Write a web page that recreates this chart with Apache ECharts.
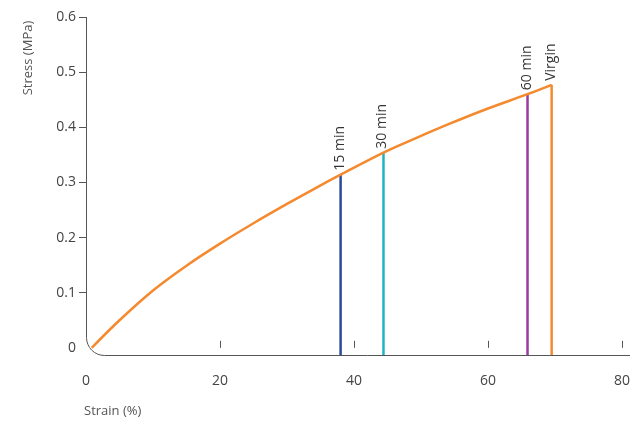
<!DOCTYPE html>
<html><head><meta charset="utf-8">
<script src="https://cdn.jsdelivr.net/npm/echarts@6/dist/echarts.min.js"></script>
<style>html,body{margin:0;padding:0;background:#fff}#c{width:633px;height:424px}</style>
</head><body><div id="c"></div>
<script>
// Virgin stress-strain curve: [strain %, stress MPa]
var virginCurve = [[0.85,0],[5,0.05],[10,0.104],[15,0.149],[20,0.189],[25,0.226],[30,0.261],[34,0.288],[38,0.314],[44.4,0.354],[49,0.379],[54.2,0.406],[60,0.434],[65.9,0.46],[69.5,0.477]];
// Failure points
var breakLabels = ['15 min','30 min','60 min','Virgin'];
var breakStrain = [38.0, 44.4, 65.9, 69.5];
var breakStress = [0.314, 0.354, 0.46, 0.477];
var breakColors = ['#2c4a9a','#1fb3c2','#9a3c9e','#f5892e'];
var xTicks = [0,20,40,60,80];
var yTicks = [0,0.1,0.2,0.3,0.4,0.5,0.6];

var Y_MIN = -0.013;
var FONT = '"Open Sans", sans-serif';
var chart = echarts.init(document.getElementById('c'));

var series = [{
  type:'line', data: virginCurve, smooth:0.35, symbol:'none',
  lineStyle:{color:'#f5892e', width:2.5}, z:3
}];
breakLabels.forEach(function(name,i){
  series.push({
    type:'line', symbol:'circle', symbolSize:0, showSymbol:true, z:2,
    lineStyle:{color:breakColors[i], width:2.5},
    itemStyle:{color:breakColors[i]},
    data:[
      {value:[breakStrain[i], breakStress[i]], label:{show:true, formatter:name, position:'top', rotate:90,
        align:'left', verticalAlign:'middle', distance:9, offset:[-5,-1], color:'#333', fontSize:14, fontFamily:FONT}},
      [breakStrain[i], Y_MIN]
    ]
  });
});

chart.setOption({
  animation:false,
  grid:{left:86, right:10, top:17, bottom:69, containLabel:false},
  xAxis:{type:'value', min:0, max:80,
    axisLine:{show:false}, splitLine:{show:false},
    axisTick:{show:true, inside:true, length:7, customValues:xTicks.slice(1), lineStyle:{color:'#555'}},
    axisLabel:{customValues:xTicks, margin:19, color:'#444', fontSize:14, fontFamily:FONT}
  },
  yAxis:{type:'value', min:Y_MIN, max:0.6,
    axisLine:{show:false}, splitLine:{show:false},
    axisTick:{show:true, inside:false, length:7, customValues:yTicks.slice(1), lineStyle:{color:'#555'}},
    axisLabel:{customValues:yTicks, margin:10, color:'#444', fontSize:14, fontFamily:FONT,
      formatter:function(v){return v===0?'0':v.toFixed(1);}}
  },
  series:series
});

var p0 = chart.convertToPixel({gridIndex:0},[0,Y_MIN]);
var pTop = chart.convertToPixel({gridIndex:0},[0,0.6]);
var x0 = Math.round(p0[0])+0.5, yb = Math.round(p0[1])+0.5, yt = Math.round(pTop[1]);
var r = 18;
var axStyle = {stroke:'#555', lineWidth:1, fill:null};
chart.setOption({graphic:[
  {type:'line', shape:{x1:x0,y1:yt,x2:x0,y2:yb-r}, style:axStyle, silent:true},
  {type:'arc', shape:{cx:x0+r, cy:yb-r, r:r, startAngle:Math.PI/2, endAngle:Math.PI, clockwise:true}, style:axStyle, silent:true},
  {type:'line', shape:{x1:x0+r,y1:yb,x2:630,y2:yb}, style:axStyle, silent:true},
  {type:'text', x:28, y:58, rotation:Math.PI/2, style:{text:'Stress (MPa)', fill:'#555', font:'13px '+FONT, align:'center', verticalAlign:'middle'}, silent:true},
  {type:'text', x:84, y:411, style:{text:'Strain (%)', fill:'#555', font:'13px '+FONT, align:'left', verticalAlign:'middle'}, silent:true}
]});
</script></body></html>
